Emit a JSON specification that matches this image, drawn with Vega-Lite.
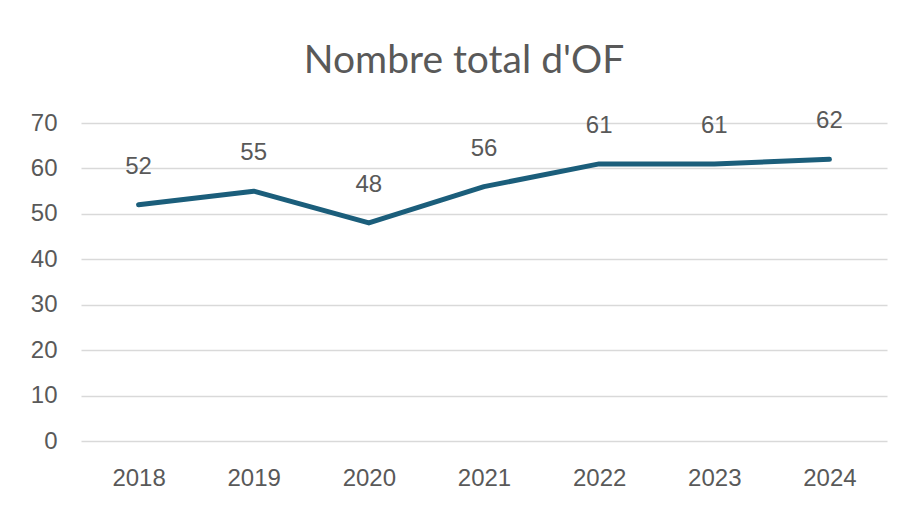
{
  "$schema": "https://vega.github.io/schema/vega-lite/v6.json",
  "autosize": "none",
  "width": 806,
  "height": 318,
  "padding": {"left": 81, "top": 123, "right": 21, "bottom": 65},
  "background": "white",
  "title": {
    "text": "Nombre total d'OF",
    "font": "Lato",
    "fontSize": 39,
    "fontWeight": "normal",
    "color": "#595959",
    "anchor": "middle",
    "baseline": "alphabetic",
    "offset": -3,
    "dx": -20
  },
  "data": {
    "values": [
      {"annee": "2018", "nombre": 52},
      {"annee": "2019", "nombre": 55},
      {"annee": "2020", "nombre": 48},
      {"annee": "2021", "nombre": 56},
      {"annee": "2022", "nombre": 61},
      {"annee": "2023", "nombre": 61},
      {"annee": "2024", "nombre": 62}
    ]
  },
  "encoding": {
    "x": {
      "field": "annee",
      "type": "ordinal",
      "scale": {"type": "point", "padding": 0.5},
      "axis": {
        "title": null,
        "labelAngle": 0,
        "domain": false,
        "ticks": false,
        "labelFont": "Liberation Sans",
        "labelFontSize": 24,
        "labelColor": "#595959",
        "labelPadding": 25,
        "labelBaseline": "top"
      }
    },
    "y": {
      "field": "nombre",
      "type": "quantitative",
      "scale": {"domain": [0, 70], "nice": false},
      "axis": {
        "title": null,
        "values": [0, 10, 20, 30, 40, 50, 60, 70],
        "domain": false,
        "ticks": false,
        "grid": true,
        "gridColor": "#D9D9D9",
        "gridWidth": 1.5,
        "labelFont": "Liberation Sans",
        "labelFontSize": 24,
        "labelColor": "#595959",
        "labelPadding": 24
      }
    }
  },
  "layer": [
    {
      "mark": {"type": "line", "color": "#1B5E7B", "strokeWidth": 5, "strokeCap": "round", "strokeJoin": "round"}
    },
    {
      "mark": {"type": "text", "baseline": "alphabetic", "dy": -31, "font": "Liberation Sans", "fontSize": 24, "color": "#595959"},
      "encoding": {"text": {"field": "nombre", "type": "quantitative"}}
    }
  ],
  "config": {"view": {"stroke": null}}
}
